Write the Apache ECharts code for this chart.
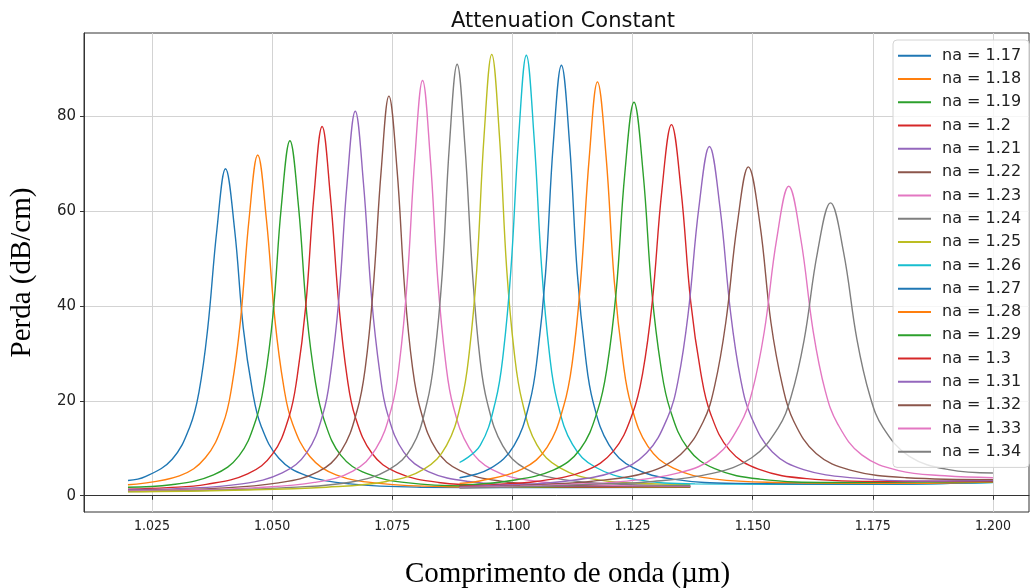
<!DOCTYPE html>
<html>
<head>
<meta charset="utf-8">
<title>Attenuation Constant</title>
<script src="https://cdn.jsdelivr.net/npm/echarts@6.0.0/dist/echarts.min.js"></script>
<style>
  html, body { margin: 0; padding: 0; background: #fff; }
  #chart { width: 1030px; height: 588px; }
</style>
</head>
<body>
<div id="chart"></div>
<script>
// readings: [wavelength (um), loss (dB/cm)]
var s117 = [[1.020,3.2],[1.0236,4.0],[1.0292,7.7],[1.0329,14.6],[1.0348,22.0],[1.0366,35.3],[1.0385,56.0],[1.0403,68.9],[1.0422,56.0],[1.0440,35.3],[1.0459,22.1],[1.0477,14.7],[1.0514,7.9],[1.0570,4.3],[1.0662,2.5],[1.0810,1.8],[1.100,1.7],[1.137,1.8]]
var s118 = [[1.020,2.3],[1.0307,4.2],[1.0361,8.0],[1.0398,15.2],[1.0416,23.0],[1.0434,36.8],[1.0452,58.3],[1.0470,71.8],[1.0488,58.3],[1.0506,36.9],[1.0524,23.1],[1.0542,15.3],[1.0579,8.2],[1.0633,4.4],[1.0723,2.6],[1.0868,1.9],[1.112,1.75],[1.137,1.85]]
var s119 = [[1.020,1.8],[1.0290,2.3],[1.0378,4.4],[1.0431,8.4],[1.0466,15.9],[1.0484,24.0],[1.0502,38.4],[1.0519,60.8],[1.0537,74.8],[1.0555,60.8],[1.0572,38.4],[1.0590,24.0],[1.0608,16.0],[1.0643,8.5],[1.0696,4.7],[1.0784,2.7],[1.0925,2.0],[1.115,1.85],[1.137,1.9]]
var s120 = [[1.020,1.4],[1.0283,1.7],[1.0363,2.4],[1.0449,4.6],[1.0501,8.8],[1.0535,16.6],[1.0552,25.0],[1.0570,40.0],[1.0587,63.2],[1.0604,77.8],[1.0621,63.3],[1.0639,40.0],[1.0656,25.0],[1.0673,16.6],[1.0708,8.9],[1.0759,4.9],[1.0846,2.8],[1.0984,2.1],[1.120,1.9],[1.137,1.95]]
var s121 = [[1.020,1.3],[1.0302,1.5],[1.0437,2.5],[1.0521,4.8],[1.0572,9.1],[1.0606,17.3],[1.0622,26.0],[1.0639,41.6],[1.0656,65.9],[1.0673,81.0],[1.0690,65.9],[1.0707,41.6],[1.0724,26.0],[1.0740,17.3],[1.0774,9.2],[1.0825,5.1],[1.0909,3.0],[1.1044,2.1],[1.137,2.0]]
var s122 = [[1.020,1.1],[1.0381,1.55],[1.0513,2.7],[1.0595,5.0],[1.0644,9.5],[1.0677,18.0],[1.0694,27.1],[1.0710,43.3],[1.0727,68.6],[1.0743,84.2],[1.0760,68.6],[1.0776,43.3],[1.0792,27.1],[1.0809,18.0],[1.0842,9.6],[1.0891,5.3],[1.0973,3.1],[1.1105,2.2],[1.137,2.05]]
var s123 = [[1.020,1.0],[1.033,1.2],[1.0459,1.65],[1.0588,2.8],[1.0668,5.2],[1.0716,9.9],[1.0749,18.7],[1.0765,28.1],[1.0781,45.0],[1.0797,71.2],[1.0813,87.5],[1.0829,71.3],[1.0845,45.0],[1.0861,28.2],[1.0877,18.8],[1.0910,10.1],[1.0958,5.5],[1.1038,3.2],[1.1167,2.3],[1.137,2.1]]
var s124 = [[1.020,0.9],[1.037,1.15],[1.0539,1.75],[1.0665,2.9],[1.0743,5.5],[1.0791,10.3],[1.0822,19.5],[1.0838,29.3],[1.0854,46.8],[1.0869,74.0],[1.0885,90.9],[1.0901,74.0],[1.0917,46.8],[1.0932,29.3],[1.0948,19.5],[1.0980,10.5],[1.1027,5.7],[1.1106,3.4],[1.1232,2.4],[1.137,2.2]]
var s125 = [[1.020,0.8],[1.042,1.15],[1.0613,1.8],[1.0738,3.0],[1.0816,5.6],[1.0863,10.6],[1.0894,19.9],[1.0910,30.0],[1.0926,47.9],[1.0941,75.8],[1.0957,93.0],[1.0973,75.8],[1.0988,47.9],[1.1004,30.0],[1.1020,20.0],[1.1051,10.7],[1.1098,5.9],[1.1176,3.4],[1.1301,2.5],[1.137,2.4]]
var s126 = [[1.089,7.0],[1.0933,10.6],[1.0965,20.0],[1.0981,30.0],[1.0997,47.8],[1.1013,75.6],[1.1029,92.8],[1.1045,75.6],[1.1061,47.8],[1.1077,30.0],[1.1093,20.0],[1.1125,10.8],[1.1173,6.0],[1.1252,3.5],[1.1380,2.5],[1.170,2.4],[1.200,2.8]]
var s127 = [[1.089,3.8],[1.0953,5.7],[1.1003,10.5],[1.1036,19.7],[1.1052,29.4],[1.1069,46.9],[1.1085,74.1],[1.1102,90.7],[1.1119,74.1],[1.1135,46.9],[1.1152,29.4],[1.1168,19.7],[1.1201,10.7],[1.1251,5.9],[1.1334,3.5],[1.1466,2.6],[1.175,2.45],[1.200,2.85]]
var s128 = [[1.089,2.6],[1.0932,3.1],[1.1020,5.6],[1.1072,10.2],[1.1107,19.0],[1.1125,28.4],[1.1142,45.2],[1.1160,71.4],[1.1177,87.2],[1.1195,71.4],[1.1212,45.2],[1.1230,28.4],[1.1247,19.1],[1.1282,10.4],[1.1335,5.8],[1.1422,3.5],[1.1562,2.8],[1.180,2.6],[1.200,2.9]]
var s129 = [[1.089,2.2],[1.0991,3.1],[1.1085,5.4],[1.1141,9.8],[1.1178,18.2],[1.1197,27.1],[1.1216,43.1],[1.1234,68.0],[1.1253,82.9],[1.1272,68.0],[1.1290,43.1],[1.1309,27.2],[1.1328,18.2],[1.1365,10.0],[1.1421,5.7],[1.1515,3.5],[1.1664,2.8],[1.200,3.0]]
var s130 = [[1.089,2.0],[1.097,2.4],[1.1049,3.0],[1.1150,5.2],[1.1210,9.4],[1.1250,17.3],[1.1271,25.8],[1.1291,40.8],[1.1311,64.3],[1.1331,78.2],[1.1351,64.3],[1.1371,40.9],[1.1392,25.9],[1.1412,17.4],[1.1452,9.6],[1.1512,5.6],[1.1613,3.6],[1.1774,3.0],[1.200,3.1]]
var s131 = [[1.089,1.85],[1.100,2.3],[1.1105,3.0],[1.1214,5.1],[1.1279,9.0],[1.1323,16.5],[1.1345,24.4],[1.1366,38.6],[1.1388,60.7],[1.1410,73.6],[1.1432,60.7],[1.1454,38.6],[1.1475,24.5],[1.1497,16.6],[1.1541,9.2],[1.1606,5.5],[1.1715,3.7],[1.1850,3.1],[1.200,3.2]]
var s132 = [[1.089,1.75],[1.0974,2.0],[1.107,2.4],[1.1162,3.0],[1.1280,4.9],[1.1350,8.7],[1.1397,15.6],[1.1421,23.2],[1.1444,36.5],[1.1468,57.3],[1.1491,69.3],[1.1515,57.3],[1.1538,36.5],[1.1562,23.2],[1.1585,15.8],[1.1632,8.9],[1.1703,5.4],[1.1820,3.8],[1.200,3.4]]
var s133 = [[1.089,1.7],[1.1016,2.0],[1.1120,2.4],[1.1219,2.9],[1.1346,4.8],[1.1423,8.3],[1.1473,14.9],[1.1499,22.0],[1.1524,34.5],[1.1550,54.1],[1.1575,65.2],[1.1600,54.2],[1.1626,34.6],[1.1651,22.1],[1.1677,15.1],[1.1727,8.6],[1.1804,5.3],[1.1900,4.2],[1.200,3.8]]
var s134 = [[1.089,1.6],[1.1061,2.0],[1.1180,2.5],[1.1280,2.9],[1.1416,4.7],[1.1498,8.0],[1.1553,14.3],[1.1580,20.9],[1.1607,32.8],[1.1635,51.4],[1.1662,61.7],[1.1689,51.4],[1.1717,32.9],[1.1744,21.0],[1.1771,14.4],[1.1826,8.3],[1.1908,5.5],[1.200,4.8]]

var naLabels = ['na = 1.17', 'na = 1.18', 'na = 1.19', 'na = 1.2', 'na = 1.21', 'na = 1.22',
  'na = 1.23', 'na = 1.24', 'na = 1.25', 'na = 1.26', 'na = 1.27', 'na = 1.28',
  'na = 1.29', 'na = 1.3', 'na = 1.31', 'na = 1.32', 'na = 1.33', 'na = 1.34']
var curves = [s117, s118, s119, s120, s121, s122, s123, s124, s125,
  s126, s127, s128, s129, s130, s131, s132, s133, s134]
var xTicks = [1.025, 1.05, 1.075, 1.1, 1.125, 1.15, 1.175, 1.2]
var yTicks = [0, 20, 40, 60, 80]

// matplotlib tab10
var tab10 = ['#1f77b4', '#ff7f0e', '#2ca02c', '#d62728', '#9467bd',
  '#8c564b', '#e377c2', '#7f7f7f', '#bcbd22', '#17becf']

var chart = echarts.init(document.getElementById('chart'))

var series = curves.map(function(pts, i) {
  return {
    name: naLabels[i],
    type: 'line',
    data: pts,
    symbol: 'none',
    smooth: 0.4,
    clip: true,
    lineStyle: { width: 1.4 },
    color: tab10[i % 10]
  }
})

var option = {
  animation: false,
  backgroundColor: '#fff',
  title: {
    text: 'Attenuation Constant',
    left: 558,
    top: 6,
    textAlign: 'center',
    textStyle: {
      fontFamily: 'DejaVu Sans',
      fontSize: 21,
      fontWeight: 'normal',
      color: '#111'
    }
  },
  legend: {
    orient: 'vertical',
    left: 893,
    top: 40,
    padding: [4, 8, 4, 5],
    icon: 'rect',
    itemWidth: 33,
    itemHeight: 2,
    itemGap: 0,
    backgroundColor: 'rgba(255,255,255,0.8)',
    borderColor: '#d4d4d4',
    borderWidth: 1,
    borderRadius: 4,
    textStyle: {
      fontFamily: 'DejaVu Sans',
      fontSize: 16,
      lineHeight: 23.3,
      color: '#222',
      padding: [0, 0, 0, 6]
    },
    data: naLabels
  },
  grid: {
    left: 84,
    right: 1,
    top: 33,
    bottom: 76,
    show: true,
    borderColor: '#333',
    borderWidth: 1,
    containLabel: false,
    outerBoundsMode: 'none'
  },
  xAxis: {
    type: 'value',
    min: 1.01085,
    max: 1.2075,
    name: 'Comprimento de onda (µm)',
    nameLocation: 'middle',
    nameGap: 48,
    nameTextStyle: {
      fontFamily: 'Liberation Serif',
      fontSize: 29,
      color: '#000',
      padding: [0, 0, 0, 22]
    },
    axisLine: { show: true, lineStyle: { color: '#333' } },
    axisTick: { show: true, length: 4, customValues: xTicks, lineStyle: { color: '#333' } },
    axisLabel: {
      customValues: xTicks,
      margin: 7,
      fontFamily: 'DejaVu Sans Condensed, Liberation Sans Narrow, Liberation Sans',
      fontSize: 14,
      color: '#222',
      formatter: function(v) { return v.toFixed(3) }
    },
    splitLine: { show: true, lineStyle: { color: '#d3d3d3', width: 1 } }
  },
  yAxis: {
    type: 'value',
    min: -3.43,
    max: 97.5,
    name: 'Perda (dB/cm)',
    nameLocation: 'middle',
    nameGap: 47,
    nameTextStyle: {
      fontFamily: 'Liberation Serif',
      fontSize: 29,
      color: '#000'
    },
    axisLine: { show: true, lineStyle: { color: '#333' } },
    axisTick: { show: true, length: 4, customValues: yTicks, lineStyle: { color: '#333' } },
    axisLabel: {
      customValues: yTicks,
      margin: 8,
      fontFamily: 'DejaVu Sans',
      fontSize: 15,
      color: '#222'
    },
    splitLine: { show: true, lineStyle: { color: '#d3d3d3', width: 1 } }
  },
  series: series
}

chart.setOption(option)
</script>
</body>
</html>
